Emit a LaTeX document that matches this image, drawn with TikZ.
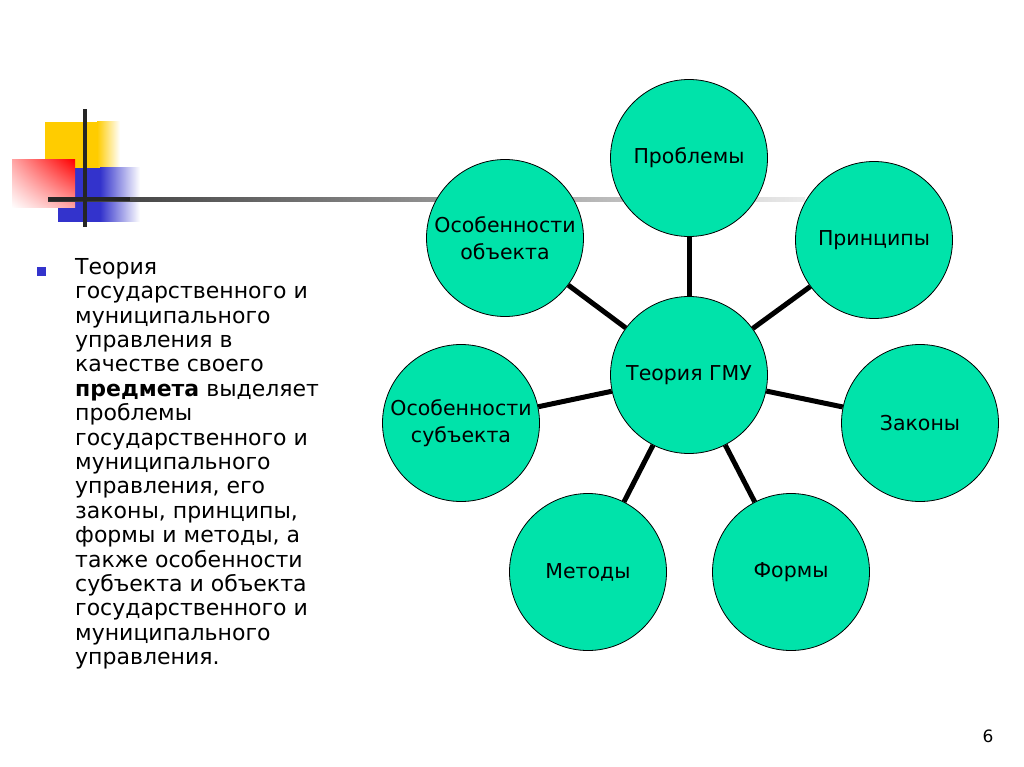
\documentclass[tikz,border=0pt]{standalone}
\usepackage{fontspec}
\setmainfont{DejaVu Sans}
\usetikzlibrary{shadings}
\begin{document}
\begin{tikzpicture}[x=1pt,y=-1pt,
  bub/.style={circle,draw=black,line width=0.8pt,fill=teal,minimum size=157pt,inner sep=0pt,align=center,font=\fontsize{20.5}{27}\selectfont},
  spoke/.style={line width=5pt,black}]
\definecolor{teal}{RGB}{0,227,170}
\definecolor{myyel}{RGB}{255,204,0}
\definecolor{myblue}{RGB}{51,51,204}
\definecolor{myred}{RGB}{255,0,0}
\useasboundingbox[fill=white] (0,0) rectangle (1024,767);
% decoration
\fill[myyel] (45,122) rectangle (97,168);
\shade[left color=myyel,right color=white] (97,122) rectangle (120,168);
\fill[myblue] (58,168) rectangle (100,222);
\shade[left color=myblue,right color=white] (100,168) rectangle (140,222);
\shade[lower left=white,upper right=myred,lower right=red!35,upper left=red!35] (12,160) rectangle (75,208);
\shade[left color=black!80,right color=black!8] (48,197.5) rectangle (805,201.5);
\fill[black!85] (48,197.5) rectangle (130,201.5);
\fill[black!85] (83,109) rectangle (87,227);
% bullet and text
\fill[myblue] (37,267) rectangle (46,276);
\node[anchor=north west,inner sep=0pt,align=left,font=\fontsize{22}{24.4}\selectfont] (txt) at (75,258)
{Теория\\государственного и\\муниципального\\управления в\\качестве своего\\\textbf{предмета} выделяет\\проблемы\\государственного и\\муниципального\\управления, его\\законы, принципы,\\формы и методы, а\\также особенности\\субъекта и объекта\\государственного и\\муниципального\\управления.};
% circles
\node[bub] (c) at (689,375) {Теория ГМУ};
\node[bub] (p1) at (689,158) {Проблемы};
\node[bub] (p2) at (874,240) {Принципы};
\node[bub] (p3) at (920,423) {Законы};
\node[bub] (p4) at (791,572) {Формы};
\node[bub] (p5) at (588,572) {Методы};
\node[bub] (p6) at (461,423) {Особенности\\субъекта};
\node[bub] (p7) at (505,238) {Особенности\\объекта};
\foreach \n in {p1,p2,p3,p4,p5,p6,p7} \draw[spoke] (c) -- (\n);
\node[font=\fontsize{17}{18}\selectfont] (pg) at (988,736) {6};
\end{tikzpicture}
\end{document}
